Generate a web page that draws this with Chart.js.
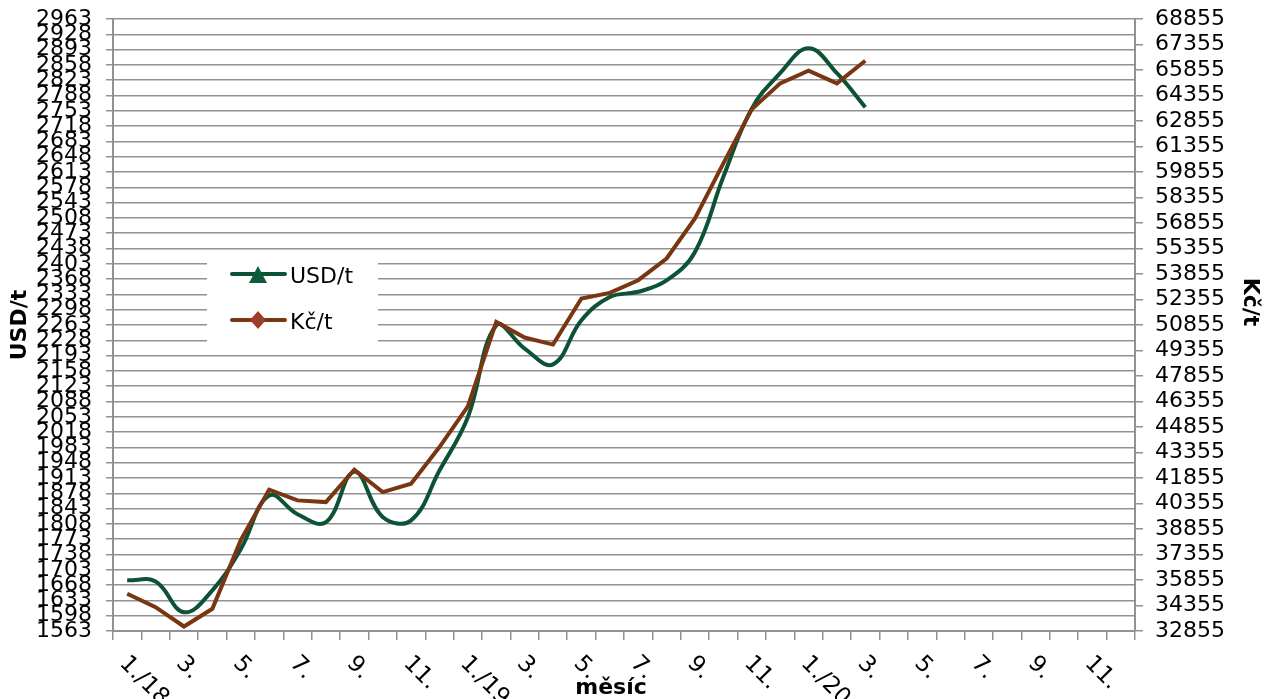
<!DOCTYPE html>
<html lang="cs">
<head>
<meta charset="UTF-8">
<title>USD/t a Kč/t po měsících</title>
<script src="https://cdn.jsdelivr.net/npm/chart.js"></script>
<style>
  body { margin: 0; background: #fff; }
</style>
</head>
<body>
<canvas id="priceChart" width="1271" height="699"></canvas>
<script>
// měsíce 1/2018 - 12/2020
const months = [
  '1./18', '2.', '3.', '4.', '5.', '6.', '7.', '8.', '9.', '10.', '11.', '12.',
  '1./19', '2.', '3.', '4.', '5.', '6.', '7.', '8.', '9.', '10.', '11.', '12.',
  '1./20', '2.', '3.', '4.', '5.', '6.', '7.', '8.', '9.', '10.', '11.', '12.'
];
const usdPerTon = [
  1679, 1676, 1606, 1656, 1750, 1873, 1830, 1812, 1927, 1824, 1816, 1930,
  2052, 2262, 2209, 2173, 2274, 2327, 2339, 2365, 2430, 2602, 2758, 2839,
  2896, 2839, 2761
];
const czkPerTon = [
  35045, 34256, 33120, 34162, 38200, 41168, 40538, 40438, 42345, 41027, 41521, 43676,
  46072, 51035, 50116, 49704, 52412, 52742, 53490, 54767, 57122, 60360, 63539, 65070,
  65812, 65070, 66400
];
// min, max, krok os
const usdAxis = [1563, 2963, 35];
const czkAxis = [32855, 68855, 1500];

const GREEN = '#0B5334';
const BROWN = '#7A3512';
const GRID = '#929292';
const FONT = '"DejaVu Sans", Verdana, sans-serif';

// popisky osy x otočené po směru hodin (Chart.js je umí jen proti směru)
const monthLabels = {
  id: 'monthLabels',
  afterDraw(chart) {
    const ctx = chart.ctx;
    const x = chart.scales.x;
    ctx.save();
    ctx.font = '23px ' + FONT;
    ctx.fillStyle = '#000';
    ctx.textAlign = 'left';
    ctx.textBaseline = 'top';
    months.forEach((m, i) => {
      if (i % 2) return;
      ctx.save();
      ctx.translate(x.getPixelForValue(i) + 4, x.top + 21);
      ctx.rotate(Math.PI / 4);
      ctx.fillText(m, 0, 0);
      ctx.restore();
    });
    ctx.restore();
  }
};

// názvy os x a pravé osy posunuté jako v předloze
const axisTitles = {
  id: 'axisTitles',
  afterDraw(chart) {
    const ctx = chart.ctx;
    ctx.save();
    ctx.font = 'bold 22px ' + FONT;
    ctx.fillStyle = '#000';
    ctx.textAlign = 'center';
    ctx.textBaseline = 'middle';
    ctx.fillText('měsíc', 611, 688);
    ctx.translate(1250, 302);
    ctx.rotate(Math.PI / 2);
    ctx.fillText('Kč/t', 0, 0);
    ctx.restore();
  }
};

// legenda uvnitř grafu
const innerLegend = {
  id: 'innerLegend',
  afterDraw(chart) {
    const ctx = chart.ctx;
    ctx.save();
    ctx.fillStyle = '#fff';
    ctx.fillRect(207, 251, 171, 92);
    const items = [
      { ds: chart.data.datasets[0], y: 274, marker: 'triangle', fill: '#0E5C3B' },
      { ds: chart.data.datasets[1], y: 320, marker: 'diamond', fill: '#9C3C2A' }
    ];
    items.forEach(it => {
      ctx.strokeStyle = it.ds.borderColor;
      ctx.lineWidth = 4;
      ctx.lineCap = 'round';
      ctx.beginPath();
      ctx.moveTo(232, it.y);
      ctx.lineTo(285, it.y);
      ctx.stroke();
      ctx.fillStyle = it.fill;
      ctx.beginPath();
      if (it.marker === 'triangle') {
        ctx.moveTo(258, it.y - 8);
        ctx.lineTo(267, it.y + 9);
        ctx.lineTo(249, it.y + 9);
      } else {
        ctx.moveTo(258, it.y - 9);
        ctx.lineTo(266, it.y);
        ctx.lineTo(258, it.y + 9);
        ctx.lineTo(250, it.y);
      }
      ctx.closePath();
      ctx.fill();
      ctx.fillStyle = '#000';
      ctx.font = '22px ' + FONT;
      ctx.textAlign = 'left';
      ctx.textBaseline = 'alphabetic';
      ctx.fillText(it.ds.label, 290, it.y + 9);
    });
    ctx.restore();
  }
};

const ctx = document.getElementById('priceChart').getContext('2d');
new Chart(ctx, {
  type: 'line',
  data: {
    labels: months,
    datasets: [
      {
        label: 'USD/t',
        data: usdPerTon,
        yAxisID: 'y',
        borderColor: GREEN,
        borderWidth: 4,
        tension: 0.4,
        pointRadius: 0,
        order: 2
      },
      {
        label: 'Kč/t',
        data: czkPerTon,
        yAxisID: 'y1',
        borderColor: BROWN,
        borderWidth: 4,
        tension: 0,
        pointRadius: 0,
        order: 1
      }
    ]
  },
  options: {
    responsive: false,
    animation: false,
    layout: { padding: { top: 0 } },
    plugins: {
      legend: { display: false },
      tooltip: { enabled: false }
    },
    scales: {
      x: {
        offset: true,
        grid: { offset: true, drawOnChartArea: false, drawTicks: true, tickLength: 9, color: GRID, lineWidth: 1.5 },
        border: { color: GRID, width: 2 },
        ticks: { display: false },
        title: { display: false },
        afterFit(scale) { scale.height = 68; }
      },
      y: {
        position: 'left',
        min: usdAxis[0],
        max: usdAxis[1],
        ticks: {
          stepSize: usdAxis[2],
          autoSkip: false,
          color: '#000',
          padding: 14,
          font: { family: FONT, size: 22 },
          callback: v => String(Math.round(v))
        },
        grid: { color: GRID, lineWidth: 1.5, tickLength: 7 },
        border: { color: GRID, width: 2 },
        title: { display: true, text: 'USD/t', color: '#000', font: { family: FONT, size: 22, weight: 'bold' }, padding: { top: 7, bottom: 0 } },
        afterFit(scale) { scale.width = 113; scale.paddingTop = 19; scale.paddingBottom = 0; }
      },
      y1: {
        position: 'right',
        min: czkAxis[0],
        max: czkAxis[1],
        ticks: {
          stepSize: czkAxis[2],
          autoSkip: false,
          color: '#000',
          padding: 12,
          font: { family: FONT, size: 22 },
          callback: v => String(Math.round(v))
        },
        grid: { drawOnChartArea: false, color: GRID, lineWidth: 1.5, tickLength: 8 },
        border: { color: GRID, width: 2 },
        title: { display: false },
        afterFit(scale) { scale.width = 136; scale.paddingTop = 19; scale.paddingBottom = 0; }
      }
    }
  },
  plugins: [monthLabels, axisTitles, innerLegend]
});
</script>
</body>
</html>
